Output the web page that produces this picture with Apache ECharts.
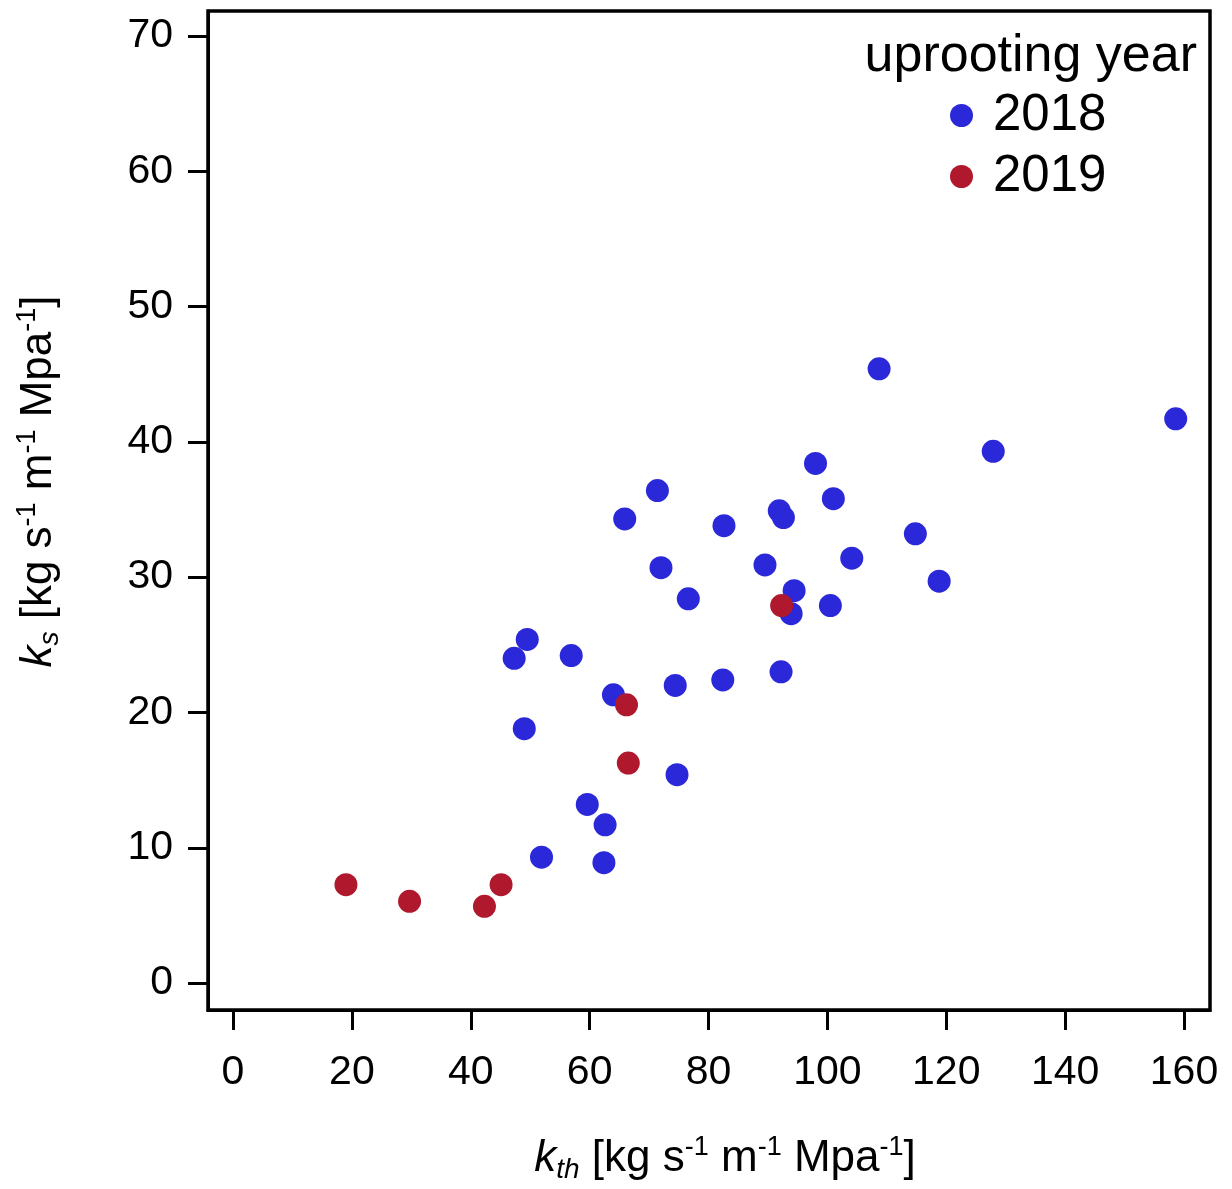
<!DOCTYPE html>
<html>
<head>
<meta charset="utf-8">
<script src="https://cdn.jsdelivr.net/npm/echarts@6/dist/echarts.min.js"></script>
<style>
html,body{margin:0;padding:0;background:#fff;}
#chart{width:1232px;height:1189px;}
</style>
</head>
<body>
<div id="chart"></div>
<script>
// ---- data ----
const kth2018 = [158.6,108.7,127.9,98.0,101.0,71.4,91.9,92.6,65.9,82.6,114.8,104.1,89.5,72.0,118.8,94.4,76.6,100.5,93.9,49.5,47.3,56.9,64.0,74.4,82.4,92.2,49.0,74.7,59.6,62.6,51.9,62.4];
const ks2018  = [41.7,45.4,39.3,38.4,35.8,36.4,34.9,34.4,34.3,33.8,33.2,31.4,30.9,30.7,29.7,29.0,28.4,27.9,27.3,25.4,24.0,24.2,21.3,22.0,22.4,23.0,18.8,15.4,13.2,11.7,9.3,8.9];
const kth2019 = [19.0,29.7,42.3,45.1,66.2,66.5,92.3];
const ks2019  = [7.27,6.04,5.67,7.27,20.56,16.26,27.9];
const xTicks = [0,20,40,60,80,100,120,140,160];
const yTicks = [0,10,20,30,40,50,60,70];
const years = ['2018','2019'];
const legendTitle = 'uprooting year';

const FONT = '"Liberation Sans", Arial, Helvetica, sans-serif';
const BLUE = '#2b28d9';
const RED = '#b0182d';

function pairs(xs, ys){ return xs.map((x,i)=>[x, ys[i]]); }

function nameStyle(pad){
  return {
    fontFamily: FONT, fontSize: 44, color: '#000', lineHeight: 50, padding: pad,
    rich: {
      i:   {fontFamily: FONT, fontStyle: 'italic', fontSize: 44, lineHeight: 50, color: '#000'},
      n:   {fontFamily: FONT, fontSize: 44, lineHeight: 50, color: '#000'},
      sub: {fontFamily: FONT, fontStyle: 'italic', fontSize: 28, lineHeight: 28, verticalAlign: 'bottom', color: '#000'},
      sup: {fontFamily: FONT, fontSize: 27, lineHeight: 35, verticalAlign: 'top', color: '#000'}
    }
  };
}

const axisCommon = {
  type: 'value',
  nameLocation: 'middle',
  axisLine: {show: true, onZero: false, lineStyle: {color: '#000', width: 3}},
  splitLine: {show: false}
};

const chart = echarts.init(document.getElementById('chart'), null, {renderer: 'canvas'});
chart.setOption({
  animation: false,
  backgroundColor: '#fff',
  title: {
    text: legendTitle, right: 35, top: 31, padding: 0,
    textStyle: {fontFamily: FONT, fontSize: 52, fontWeight: 'normal', color: '#000'}
  },
  legend: {
    orient: 'vertical', left: 950, top: 90, padding: 0,
    itemWidth: 23, itemHeight: 23, itemGap: 10, icon: 'circle',
    data: years,
    textStyle: {fontFamily: FONT, fontSize: 51, color: '#000', lineHeight: 51, padding: [0,0,0,15]}
  },
  grid: {left: 208, right: 22, top: 11, bottom: 176, show: true, borderColor: '#000', borderWidth: 3.5},
  xAxis: Object.assign({}, axisCommon, {
    min: -4.21, max: 164.37,
    name: '{i|k}{sub|th}{n| [kg s}{sup|-1}{n| m}{sup|-1}{n| Mpa}{sup|-1}{n|]}',
    nameGap: 124,
    nameTextStyle: nameStyle([0,0,0,32]),
    axisTick: {show: true, length: 20, lineStyle: {color: '#000', width: 3}, customValues: xTicks},
    axisLabel: {customValues: xTicks, margin: 42, fontSize: 41, color: '#000', fontFamily: FONT}
  }),
  yAxis: Object.assign({}, axisCommon, {
    min: -1.99, max: 71.84,
    name: '{i|k}{sub|s}{n| [kg s}{sup|-1}{n| m}{sup|-1}{n| Mpa}{sup|-1}{n|]}',
    nameGap: 144,
    nameTextStyle: nameStyle([0,0,0,58]),
    axisTick: {show: true, length: 20, lineStyle: {color: '#000', width: 3}, customValues: yTicks},
    axisLabel: {customValues: yTicks, margin: 35, fontSize: 41, color: '#000', fontFamily: FONT}
  }),
  series: [
    {type: 'scatter', name: years[0], data: pairs(kth2018, ks2018), symbol: 'circle', symbolSize: 23,
     itemStyle: {color: BLUE, opacity: 1}},
    {type: 'scatter', name: years[1], data: pairs(kth2019, ks2019), symbol: 'circle', symbolSize: 23,
     itemStyle: {color: RED, opacity: 1}}
  ]
});
</script>
</body>
</html>
